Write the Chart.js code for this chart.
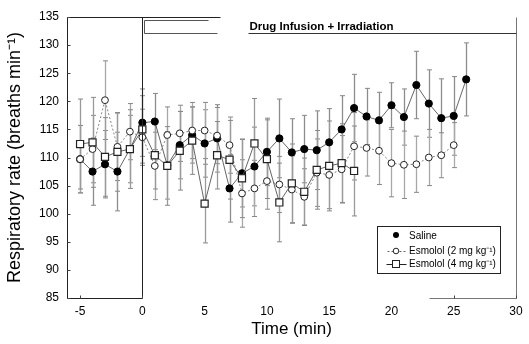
<!DOCTYPE html>
<html>
<head>
<meta charset="utf-8">
<script src="https://cdn.jsdelivr.net/npm/chart.js@4"></script>
<style>
  html, body { margin: 0; padding: 0; background: #fff; }
  #wrap { width: 529px; height: 344px; position: relative; }
</style>
</head>
<body>
<div id="wrap"><canvas id="chart" width="529" height="344"></canvas></div>
<script>
// idő (perc)
const times = [-5, -4, -3, -2, -1, 0, 1, 2, 3, 4, 5, 6, 7, 8, 9, 10, 11, 12, 13, 14, 15, 16, 17, 18, 19, 20, 21, 22, 23, 24, 25, 26];

// légzésszám értékek
const saline = [109.7, 107.5, 108.8, 107.5, 111.5, 116.2, 116.4, 108.6, 112.2, 114.0, 112.5, 113.4, 104.5, 107.2, 108.4, 111.0,
  113.4, 110.9, 111.5, 111.3, 112.7, 115.0, 118.8, 117.3, 116.6, 119.3, 117.2, 122.9, 119.6, 117.0, 117.4, 123.9];
const esmolol2 = [109.7, 111.5, 120.2, 111.9, 114.6, 113.6, 108.5, 114.0, 114.3, 114.8, 114.8, 113.9, 112.2, 103.6, 104.5, 105.8,
  105.2, 104.3, 103.0, 107.3, 106.9, 107.9, 112.0, 111.7, 111.2, 109.0, 108.7, 108.8, 110.0, 110.4, 112.2, null];
const esmolol4 = [112.4, 112.7, 110.1, 111.0, 111.5, 115.0, 110.4, 108.5, 111.2, 113.0, 101.8, 110.4, 109.6, 106.3, 112.5, 109.7,
  102.0, 105.4, 103.9, 107.8, 108.5, 109.0, 107.6];

// hibasávok (SEM)
const salineErr = [6, 6, 6, 7, 6, 6, 5, 6, 6, 5, 6, 6, 6, 6, 7, 6, 7, 6, 6, 7, 6, 6, 6, 5, 5, 4, 5, 6, 6, 7, 7, 6.5];
const esmolol2Err = [6, 6, 7, 6, 5, 5, 6, 5, 5, 5, 5, 5, 5, 6, 5, 5, 5, 6, 5, 6, 6, 6, 6, 5, 6, 6, 6, 5, 5, 4, 4, null];
const esmolol4Err = [8, 8, 7, 7, 7, 6, 6, 7, 7, 6, 7, 6, 7, 7, 8, 7, 7, 7, 6, 7, 8, 7, 8];

const xTicks = [-5, 0, 5, 10, 15, 20, 25, 30];
const yTicks = [85, 90, 95, 100, 105, 110, 115, 120, 125, 130, 135];

const FONT = "Arial, 'Liberation Sans', Helvetica, sans-serif";

function toPoints(vals) {
  return vals.map((v, i) => ({ x: times[i], y: v }));
}

/** Hibasávok rajzolása a skálák segítségével */
const errorBars = {
  id: "errorBars",
  beforeDatasetsDraw(chart) {
    const ctx = chart.ctx;
    const xs = chart.scales.x, ys = chart.scales.y;
    const sets = [[saline, salineErr, "#8c8c8c"], [esmolol2, esmolol2Err, "#a8a8a8"], [esmolol4, esmolol4Err, "#9a9a9a"]];
    ctx.save();
    sets.forEach(([vals, errs, col]) => {
      vals.forEach((v, i) => {
        if (v == null || errs[i] == null) return;
        const px = Math.round(xs.getPixelForValue(times[i])) + 0.5;
        const top = ys.getPixelForValue(v + errs[i]);
        const bot = ys.getPixelForValue(v - errs[i]);
        ctx.strokeStyle = col;
        ctx.lineWidth = 1.3;
        ctx.beginPath();
        ctx.moveTo(px, top);
        ctx.lineTo(px, bot);
        ctx.stroke();
        ctx.strokeStyle = "#888";
        ctx.lineWidth = 1;
        ctx.beginPath();
        ctx.moveTo(px - 2.5, top); ctx.lineTo(px + 2.5, top);
        ctx.moveTo(px - 2.5, bot); ctx.lineTo(px + 2.5, bot);
        ctx.stroke();
      });
    });
    ctx.restore();
  }
};

/** Keret, belső tick-ek, infúziós jelölés és jelmagyarázat */
const frame = {
  id: "frame",
  afterDraw(chart) {
    const ctx = chart.ctx;
    const xs = chart.scales.x, ys = chart.scales.y;
    const X = v => xs.getPixelForValue(v);
    const Y = v => ys.getPixelForValue(v);
    ctx.save();
    ctx.strokeStyle = "#222";
    ctx.lineWidth = 1;
    const line = (x1, y1, x2, y2) => {
      ctx.beginPath();
      ctx.moveTo(Math.round(x1) + 0.5, Math.round(y1) + 0.5);
      ctx.lineTo(Math.round(x2) + 0.5, Math.round(y2) + 0.5);
      ctx.stroke();
    };
    const left = xs.left, right = xs.right, top = ys.top, bottom = ys.bottom;
    // bal tengely
    line(left, top, left, bottom);
    // alsó tengely részei
    line(left, bottom, X(0), bottom);
    ctx.strokeStyle = "#777";
    line(X(23), bottom, right, bottom);
    // jobb oldali vonal
    line(right, top, right, bottom);
    ctx.strokeStyle = "#222";
    // függőleges vonal 0 percnél
    line(X(0), top, X(0), bottom);
    // felső vonal
    line(left, top, X(6.2), top);
    // kis keret az infúzió kezdeténél
    ctx.strokeStyle = "#555";
    line(X(0.1), Y(134.5), X(5.3), Y(134.5));
    line(X(0.1), Y(132.2), X(6.0), Y(132.2));
    line(X(0.1), Y(134.5), X(0.1), Y(132.2));
    // Drug Infusion + Irradiation
    ctx.strokeStyle = "#333";
    line(X(8.5), Y(132.1), right, Y(132.1));
    ctx.fillStyle = "#000";
    ctx.font = "bold 11.5px " + FONT;
    ctx.textAlign = "left";
    ctx.textBaseline = "alphabetic";
    ctx.fillText("Drug Infusion + Irradiation", X(8.6), Y(132.7));

    // belső tick-ek
    ctx.strokeStyle = "#444";
    yTicks.forEach(t => line(left, Y(t), left + 3, Y(t)));
    xTicks.forEach(t => { if (t <= 0 || t >= 23) line(X(t), bottom, X(t), bottom - 3); });

    // jelmagyarázat
    const lx = 377, ly = 226, lw = 123, lh = 47;
    ctx.strokeStyle = "#222";
    ctx.strokeRect(lx + 0.5, ly + 0.5, lw, lh);
    ctx.font = "10px " + FONT;
    ctx.textBaseline = "middle";
    ctx.fillStyle = "#000";
    const mx = 396, tx = 409;
    // Saline
    ctx.beginPath(); ctx.arc(mx, 235, 3, 0, Math.PI * 2); ctx.fill();
    ctx.fillText("Saline", tx, 236);
    // Esmolol 2
    ctx.strokeStyle = "#666";
    ctx.setLineDash([2, 2]);
    line(mx - 9, 251, mx + 9, 251);
    ctx.setLineDash([]);
    ctx.strokeStyle = "#222";
    ctx.fillStyle = "#fff";
    ctx.beginPath(); ctx.arc(mx, 251, 2.8, 0, Math.PI * 2); ctx.fill(); ctx.stroke();
    ctx.fillStyle = "#000";
    ctx.fillText("Esmolol (2 mg kg\u207B\u00B9)", tx, 251);
    // Esmolol 4
    line(mx - 10, 264, mx + 10, 264);
    ctx.fillStyle = "#fff";
    ctx.fillRect(mx - 4, 260, 8, 8);
    ctx.strokeRect(mx - 3.5, 260.5, 7, 7);
    ctx.fillStyle = "#000";
    ctx.fillText("Esmolol (4 mg kg\u207B\u00B9)", tx, 264);
    ctx.restore();
  }
};

new Chart(document.getElementById("chart").getContext("2d"), {
  type: "line",
  data: {
    datasets: [
      {
        label: "Saline",
        data: toPoints(saline),
        borderColor: "#555",
        borderWidth: 0.9,
        pointStyle: "circle",
        pointRadius: 3.6,
        pointBackgroundColor: "#000",
        pointBorderColor: "#000",
        pointBorderWidth: 1,
        spanGaps: true,
        order: 3
      },
      {
        label: "Esmolol (2 mg kg\u207B\u00B9)",
        data: toPoints(esmolol2),
        borderColor: "#777",
        borderWidth: 0.9,
        borderDash: [2, 2],
        pointStyle: "circle",
        pointRadius: 3.4,
        pointBackgroundColor: "#fff",
        pointBorderColor: "#222",
        pointBorderWidth: 1,
        order: 2
      },
      {
        label: "Esmolol (4 mg kg\u207B\u00B9)",
        data: toPoints(esmolol4),
        borderColor: "#555",
        borderWidth: 0.9,
        pointStyle: "rect",
        pointRadius: 5,
        pointBackgroundColor: "#fff",
        pointBorderColor: "#222",
        pointBorderWidth: 1.2,
        order: 1
      }
    ]
  },
  options: {
    responsive: false,
    animation: false,
    layout: { padding: { top: 17, right: 13, left: 0, bottom: 0 } },
    plugins: { legend: { display: false }, tooltip: { enabled: false } },
    scales: {
      x: {
        type: "linear",
        min: -6.05,
        max: 30,
        afterBuildTicks: s => { s.ticks = xTicks.map(v => ({ value: v })); },
        afterFit: s => { s.height = 46; },
        grid: { display: false, drawTicks: false },
        border: { display: false },
        ticks: { color: "#000", font: { family: FONT, size: 12 }, padding: 6, maxRotation: 0 },
        title: { display: true, text: "Time (min)", color: "#000", font: { family: FONT, size: 17 }, padding: { top: 2 } }
      },
      y: {
        min: 85,
        max: 135,
        afterBuildTicks: s => { s.ticks = yTicks.map(v => ({ value: v })); },
        afterFit: s => { s.width = 67; },
        grid: { display: false, drawTicks: false },
        border: { display: false },
        ticks: { color: "#000", font: { family: FONT, size: 12 }, padding: 8 },
        title: { display: true, text: "Respiratory rate (breaths min\u207B\u00B9)", color: "#000", font: { family: FONT, size: 18 }, padding: { top: 4, bottom: 2 } }
      }
    }
  },
  plugins: [errorBars, frame]
});
</script>
</body>
</html>
